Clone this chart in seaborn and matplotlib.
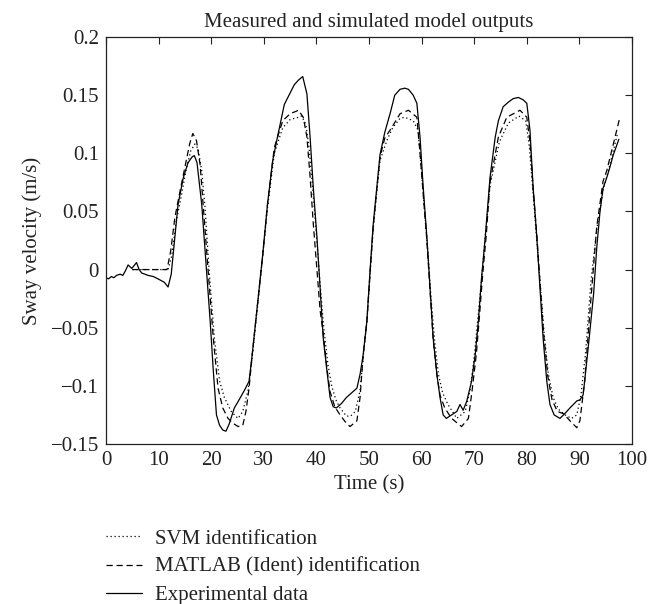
import numpy as np
import pandas as pd
import matplotlib
matplotlib.use("Agg")
import matplotlib.pyplot as plt
import seaborn as sns

# ---- data ----
exp_t = [0, 0.5, 1, 1.5, 2, 2.7, 3.2, 3.7, 4.2, 4.9, 5.8, 6.3, 6.8, 8.0, 9.0, 9.9, 11.1, 11.8,
         12.4, 13.1, 13.7, 14.7, 15.6, 16.4, 16.8, 17.3, 17.9, 18.2, 19.1, 19.8, 20.4, 21.0,
         21.6, 22.2, 22.8, 23.4, 24.4, 25.3, 26.3, 27.2, 27.8, 28.8, 29.8, 30.7, 31.7, 32.6,
         33.9, 34.9, 35.8, 36.6, 37.4, 38.2, 38.8, 39.4, 40.1, 40.7, 41.3, 42.0, 42.6, 43.2,
         43.8, 44.8, 45.7, 46.7, 47.7, 48.3, 48.9, 49.6, 50.2, 50.8, 51.5, 52.1, 53.0, 54.0,
         54.9, 55.9, 56.8, 57.5, 58.4, 59.1, 59.7, 60.3, 61.0, 61.6, 62.2, 62.9, 63.5, 64.1,
         64.7, 65.7, 66.7, 67.3, 67.9, 68.6, 69.5, 70.2, 70.8, 71.4, 72.1, 73.0, 74.0, 74.6,
         75.5, 76.5, 77.4, 78.4, 79.3, 80.0, 80.6, 81.2, 81.9, 82.5, 83.1, 83.8, 84.4, 85.2,
         86.3, 87.2, 88.2, 89.5, 90.1, 90.7, 91.0, 91.7, 92.7, 93.3, 93.9, 94.5, 95.2, 95.8,
         96.4, 97.1, 97.5]
exp_v = [-0.007, -0.008, -0.006, -0.007, -0.005, -0.004, -0.005, -0.001, 0.004, 0.001, 0.006,
         0.0, -0.003, -0.005, -0.006, -0.008, -0.011, -0.015, -0.004, 0.028, 0.056, 0.079,
         0.092, 0.097, 0.098, 0.092, 0.068, 0.056, 0.000, -0.044, -0.087, -0.125, -0.134,
         -0.138, -0.139, -0.133, -0.119, -0.112, -0.104, -0.096, -0.073, -0.030, 0.013, 0.056,
         0.094, 0.114, 0.142, 0.151, 0.159, 0.163, 0.166, 0.151, 0.114, 0.071, 0.028, -0.016,
         -0.059, -0.087, -0.110, -0.118, -0.119, -0.115, -0.110, -0.106, -0.102, -0.090,
         -0.073, -0.044, -0.001, 0.039, 0.071, 0.099, 0.118, 0.134, 0.150, 0.155, 0.156,
         0.155, 0.150, 0.143, 0.114, 0.071, 0.028, -0.016, -0.059, -0.090, -0.110, -0.125,
         -0.128, -0.125, -0.122, -0.116, -0.121, -0.113, -0.096, -0.073, -0.044, -0.007,
         0.028, 0.079, 0.114, 0.128, 0.140, 0.144, 0.147, 0.148, 0.146, 0.143, 0.120, 0.071,
         0.028, -0.016, -0.059, -0.096, -0.116, -0.125, -0.128, -0.124, -0.119, -0.113,
         -0.112, -0.108, -0.096, -0.066, -0.021, 0.019, 0.049, 0.070, 0.079, 0.088, 0.098,
         0.107, 0.112]

mat_t = [5, 11.6, 12.3, 13.1, 14.1, 15.0, 15.9, 16.5, 17.2, 17.9, 18.4, 19.4, 20.4, 21.3,
         22.2, 23.2, 24.1, 25.1, 26.0, 26.6, 27.2, 27.8, 28.8, 29.8, 30.7, 32.0, 33.6, 35.0,
         36.6, 37.5, 38.2, 38.8, 39.4, 40.1, 40.7, 41.3, 42.0, 42.6, 43.5, 44.5, 45.5, 46.4,
         47.7, 48.3, 48.9, 49.6, 50.2, 50.8, 51.5, 52.1, 53.0, 54.3, 55.9, 57.5, 59.1, 59.7,
         60.3, 61.0, 61.6, 62.2, 62.9, 63.5, 64.4, 65.7, 67.6, 68.9, 69.6, 70.4, 71.0, 71.6,
         72.3, 73.0, 74.6, 76.2, 78.7, 80.0, 80.6, 81.2, 81.9, 82.5, 83.2, 84.0, 84.8, 85.8,
         87.0, 88.2, 89.5, 90.1, 91.0, 92.0, 93.3, 94.5, 95.2, 96.4, 97.7]
mat_v = [0, 0, 0.016, 0.045, 0.068, 0.088, 0.108, 0.117, 0.111, 0.090, 0.060, 0.0, -0.059,
         -0.102, -0.119, -0.128, -0.132, -0.135, -0.134, -0.122, -0.102, -0.073, -0.030,
         0.013, 0.056, 0.105, 0.128, 0.134, 0.137, 0.131, 0.114, 0.080, 0.040, 0.0, -0.035,
         -0.055, -0.085, -0.105, -0.118, -0.125, -0.131, -0.135, -0.130, -0.110, -0.073,
         -0.044, -0.003, 0.037, 0.070, 0.097, 0.113, 0.122, 0.134, 0.137, 0.131, 0.100,
         0.065, 0.025, -0.018, -0.060, -0.090, -0.108, -0.119, -0.128, -0.135, -0.128,
         -0.104, -0.073, -0.040, -0.005, 0.030, 0.075, 0.114, 0.131, 0.137, 0.131, 0.110,
         0.070, 0.030, -0.010, -0.055, -0.092, -0.112, -0.122, -0.124, -0.130, -0.136,
         -0.130, -0.096, -0.036, 0.037, 0.076, 0.085, 0.107, 0.131]

svm_t = [5, 11.8, 12.5, 13.3, 14.3, 15.2, 16.1, 16.9, 17.5, 18.2, 18.8, 19.6, 20.6, 21.6,
         22.5, 23.8, 25.1, 26.0, 27.0, 27.8, 28.8, 29.8, 30.7, 32.0, 33.6, 35.0, 36.6, 37.2,
         38.0, 38.6, 39.3, 40.0, 40.7, 41.4, 42.2, 42.9, 43.7, 44.5, 45.7, 46.5, 47.4, 48.3,
         48.9, 49.6, 50.2, 50.8, 51.5, 52.1, 53.4, 54.5, 55.9, 56.8, 58.4, 59.3, 59.9, 60.5,
         61.2, 61.8, 62.5, 63.2, 64.0, 65.0, 66.7, 68.3, 69.2, 70.0, 70.7, 71.4, 72.1, 73.0,
         74.8, 76.5, 78.5, 79.8, 80.5, 81.2, 81.9, 82.6, 83.3, 84.1, 85.0, 86.0, 87.3, 88.5,
         89.5, 90.3, 91.2, 92.2, 93.3, 94.5, 95.5, 96.5, 97.3]
svm_v = [0, 0, 0.012, 0.040, 0.063, 0.085, 0.102, 0.108, 0.104, 0.085, 0.055, 0.0, -0.059,
         -0.096, -0.110, -0.122, -0.128, -0.122, -0.104, -0.075, -0.032, 0.012, 0.053, 0.100,
         0.122, 0.129, 0.131, 0.132, 0.125, 0.105, 0.070, 0.030, -0.012, -0.050, -0.082,
         -0.100, -0.112, -0.119, -0.126, -0.126, -0.122, -0.104, -0.075, -0.045, -0.005,
         0.035, 0.068, 0.094, 0.111, 0.122, 0.130, 0.131, 0.128, 0.120, 0.090, 0.055, 0.015,
         -0.025, -0.062, -0.090, -0.106, -0.116, -0.128, -0.122, -0.104, -0.075, -0.042,
         -0.008, 0.028, 0.072, 0.110, 0.126, 0.132, 0.128, 0.105, 0.065, 0.025, -0.015,
         -0.055, -0.090, -0.110, -0.120, -0.125, -0.128, -0.125, -0.108, -0.070, -0.010,
         0.035, 0.068, 0.085, 0.103, 0.118]

labels = ["SVM identification", "MATLAB (Ident) identification", "Experimental data"]
x_ticks = [0, 10, 20, 30, 40, 50, 60, 70, 80, 90, 100]
y_ticks = [-0.15, -0.1, -0.05, 0, 0.05, 0.1, 0.15, 0.2]
y_ticklabels = ["\u22120.15", "\u22120.1", "\u22120.05", "0", "0.05", "0.1", "0.15", "0.2"]

# ---- styling ----
sns.set_theme(style="white")
plt.rcParams["font.family"] = ["Liberation Serif", "DejaVu Serif"]
plt.rcParams["axes.linewidth"] = 0.9
plt.rcParams["xtick.direction"] = "in"
plt.rcParams["ytick.direction"] = "in"

FS = 15
TXT = "#222222"

fig = plt.figure(figsize=(6.69, 6.04), dpi=100)
ax = fig.add_axes([106 / 669, 1 - 444 / 604, 526 / 669, 407 / 604])

lw = 0.9
sns.lineplot(x=svm_t, y=svm_v, ax=ax, color="black", lw=lw, linestyle=(0, (1, 2.2)),
             estimator=None, sort=False, label=labels[0])
sns.lineplot(x=mat_t, y=mat_v, ax=ax, color="black", lw=lw, linestyle=(0, (5, 3)),
             estimator=None, sort=False, label=labels[1])
sns.lineplot(x=exp_t, y=exp_v, ax=ax, color="black", lw=lw, linestyle="-",
             estimator=None, sort=False, label=labels[2])

ax.set_xlim(0, 100)
ax.set_ylim(-0.15, 0.2)
ax.set_xticks(x_ticks)
ax.set_yticks(y_ticks)
ax.set_yticklabels(y_ticklabels)
ax.tick_params(axis="both", which="both", direction="in", top=True, right=True,
               length=5, width=0.8, labelsize=FS, colors=TXT, pad=5)
for s in ax.spines.values():
    s.set_visible(True)
    s.set_color(TXT)
ax.set_xlabel("Time (s)", fontsize=FS, color=TXT, labelpad=4)
ax.set_ylabel("Sway velocity (m/s)", fontsize=FS, color=TXT, labelpad=6)
ax.set_title("Measured and simulated model outputs", fontsize=FS, color=TXT, pad=7)

handles, labs = ax.get_legend_handles_labels()
ax.get_legend().remove()
fig.legend(handles, labs, loc="upper left", bbox_to_anchor=(106 / 669, 1 - 529 / 604),
           frameon=False, fontsize=FS, handlelength=1.75, handletextpad=0.6,
           labelspacing=0.42, borderaxespad=0, borderpad=0, labelcolor=TXT)

fig.savefig("out.png", dpi=100)
